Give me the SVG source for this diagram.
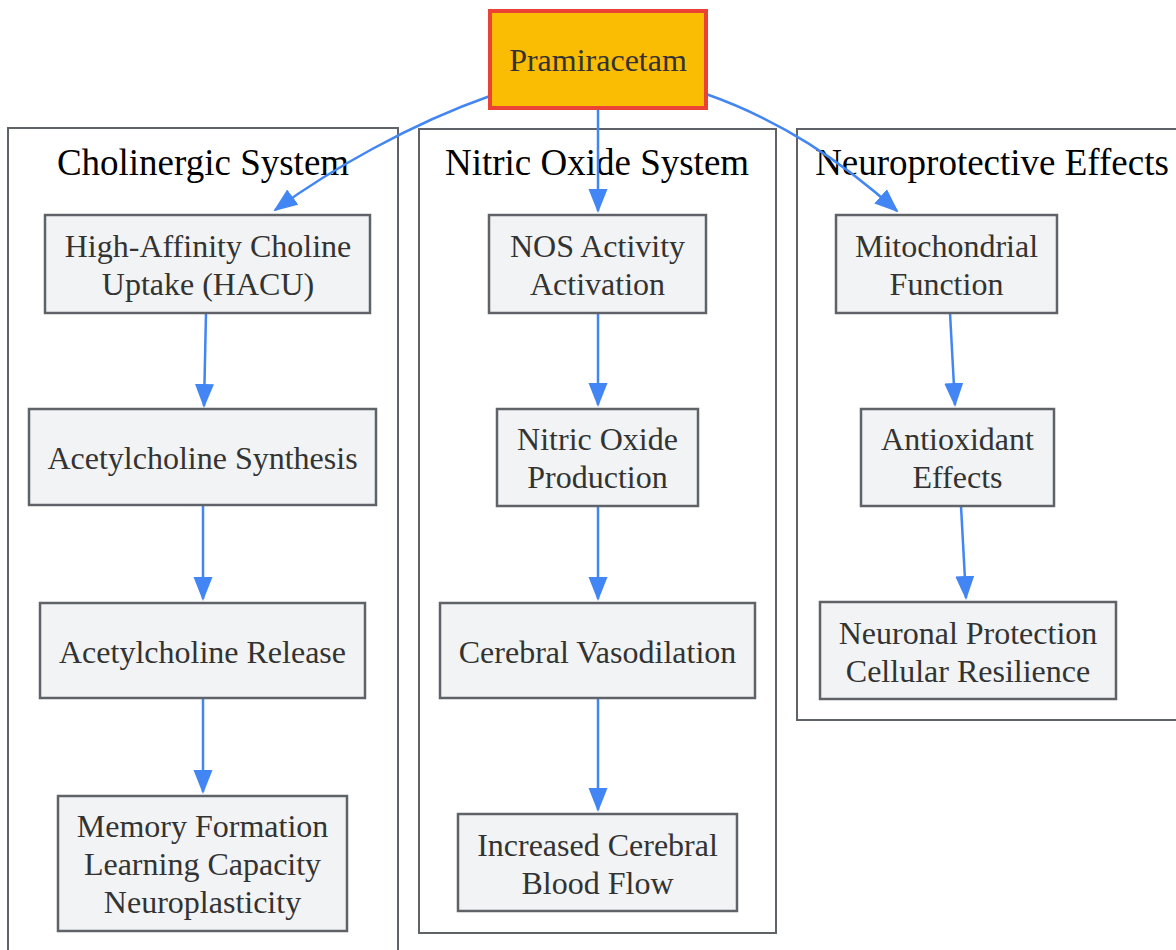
<svg xmlns="http://www.w3.org/2000/svg" width="1176" height="950" viewBox="0 0 1176 950">
<style>
.cluster{fill:#ffffff;stroke:#5F6368;stroke-width:2}
.clabel{font-family:"Liberation Serif","Times New Roman",serif;font-size:37px;fill:#000;text-anchor:middle}
.node{fill:#F1F3F4;stroke:#5F6368;stroke-width:2.5}
.ntext{font-family:"Liberation Serif","Times New Roman",serif;font-size:32px;fill:#333;text-anchor:middle}
.edge{fill:none;stroke:#4285F4;stroke-width:2.5}
</style>
<defs>
<marker id="arr" markerUnits="userSpaceOnUse" markerWidth="26" markerHeight="20" viewBox="0 0 26 20" refX="22" refY="10" orient="auto">
<path d="M0,0.5 L24,10 L0,19.5 z" fill="#4285F4"/>
</marker>
</defs>
<rect width="1176" height="950" fill="#ffffff"/>
<g id="clusters">
<g id="cluster-cholinergic">
<rect class="cluster" x="8" y="128" width="390" height="840"/>
<text class="clabel" x="203" y="175">Cholinergic System</text>
</g>
<g id="cluster-nitric">
<rect class="cluster" x="419" y="129" width="357" height="804"/>
<text class="clabel" x="597" y="175">Nitric Oxide System</text>
</g>
<g id="cluster-neuro">
<rect class="cluster" x="797" y="129" width="400" height="591"/>
<text class="clabel" x="992" y="175">Neuroprotective Effects</text>
</g>
</g>
<g id="connectors">
<path class="edge" marker-end="url(#arr)" d="M490,96 C410,124 330,170 275,210"/>
<path class="edge" marker-end="url(#arr)" d="M598,108 L598,211"/>
<path class="edge" marker-end="url(#arr)" d="M706,94 C780,120 840,160 897,211"/>
<path class="edge" marker-end="url(#arr)" d="M206,313 L204,406"/>
<path class="edge" marker-end="url(#arr)" d="M203,506 L203,599"/>
<path class="edge" marker-end="url(#arr)" d="M203,699 L203,792"/>
<path class="edge" marker-end="url(#arr)" d="M598,313 L598,405"/>
<path class="edge" marker-end="url(#arr)" d="M598,506 L598,599"/>
<path class="edge" marker-end="url(#arr)" d="M598,699 L598,810"/>
<path class="edge" marker-end="url(#arr)" d="M950,313 L955,405"/>
<path class="edge" marker-end="url(#arr)" d="M961,506 L966,598"/>
</g>
<g id="node-pramiracetam">
<rect x="490" y="11" width="216" height="97" fill="#FBBC04" stroke="#EA4335" stroke-width="4"/>
<text class="ntext" x="598" y="71">Pramiracetam</text>
</g>
<g id="node-hacu">
<rect class="node" x="45" y="215" width="325" height="98"/>
<text class="ntext" x="208" y="257">High-Affinity Choline</text>
<text class="ntext" x="208" y="295">Uptake (HACU)</text>
</g>
<g id="node-achsynth">
<rect class="node" x="29" y="409" width="347" height="96"/>
<text class="ntext" x="202.5" y="469">Acetylcholine Synthesis</text>
</g>
<g id="node-achrelease">
<rect class="node" x="40" y="603" width="325" height="95"/>
<text class="ntext" x="202.5" y="663">Acetylcholine Release</text>
</g>
<g id="node-memory">
<rect class="node" x="58" y="796" width="289" height="135"/>
<text class="ntext" x="202.5" y="837">Memory Formation</text>
<text class="ntext" x="202.5" y="875">Learning Capacity</text>
<text class="ntext" x="202.5" y="913">Neuroplasticity</text>
</g>
<g id="node-nos">
<rect class="node" x="489" y="215" width="217" height="98"/>
<text class="ntext" x="597.5" y="257">NOS Activity</text>
<text class="ntext" x="597.5" y="295">Activation</text>
</g>
<g id="node-no">
<rect class="node" x="497" y="409" width="201" height="97"/>
<text class="ntext" x="597.5" y="450">Nitric Oxide</text>
<text class="ntext" x="597.5" y="488">Production</text>
</g>
<g id="node-vaso">
<rect class="node" x="440" y="603" width="315" height="95"/>
<text class="ntext" x="597.5" y="663">Cerebral Vasodilation</text>
</g>
<g id="node-cbf">
<rect class="node" x="458" y="814" width="279" height="97"/>
<text class="ntext" x="597.5" y="856">Increased Cerebral</text>
<text class="ntext" x="597.5" y="894">Blood Flow</text>
</g>
<g id="node-mito">
<rect class="node" x="836" y="215" width="221" height="98"/>
<text class="ntext" x="946.5" y="257">Mitochondrial</text>
<text class="ntext" x="946.5" y="295">Function</text>
</g>
<g id="node-antiox">
<rect class="node" x="861" y="409" width="193" height="97"/>
<text class="ntext" x="957.5" y="450">Antioxidant</text>
<text class="ntext" x="957.5" y="488">Effects</text>
</g>
<g id="node-neuronal">
<rect class="node" x="820" y="602" width="296" height="97"/>
<text class="ntext" x="968" y="644">Neuronal Protection</text>
<text class="ntext" x="968" y="682">Cellular Resilience</text>
</g>
</svg>
